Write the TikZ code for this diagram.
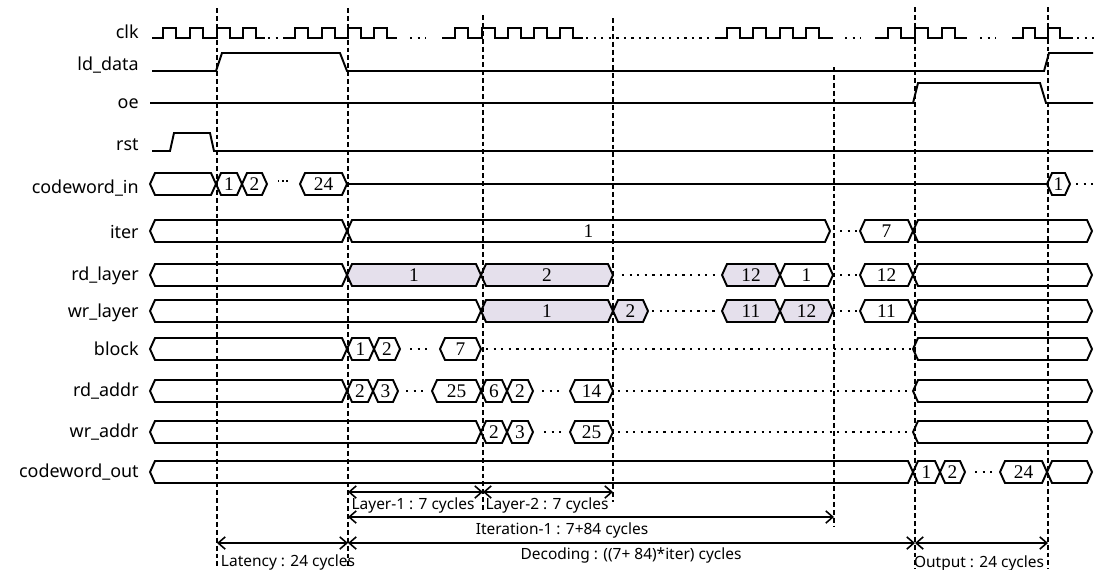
\documentclass[tikz,border=0pt]{standalone}
\usepackage{fontspec}
\setmainfont{Noto Sans}
\newfontfamily\numfont{Liberation Serif}
\usetikzlibrary{arrows.meta}
\definecolor{lav}{RGB}{229,224,236}

\newcommand{\busval}[5][white]{%
  \draw[bus, fill=#1] (#2,#4) -- (#2+5,#4-11) -- (#3-5,#4-11) -- (#3,#4)
    -- (#3-5,#4+11) -- (#2+5,#4+11) -- cycle;
  \node[val] at ({(#2+#3)/2},#4) {#5};
}

\begin{document}
\begin{tikzpicture}[x=0.02cm, y=-0.02cm,
  sig/.style={line width=1.1pt, line join=miter},
  bus/.style={line width=1.1pt, line join=miter},
  val/.style={font=\numfont\fontsize{11}{12}\selectfont, inner sep=0pt},
  lab/.style={anchor=base east, font=\fontsize{10.2}{12}\selectfont, inner sep=0pt},
  dots/.style={line width=1.3pt, dash pattern=on 1.3pt off 3pt},
  vline/.style={line width=0.9pt, dash pattern=on 2.8pt off 1.7pt},
  dim/.style={{Straight Barb[length=4pt,width=7pt]}-{Straight Barb[length=4pt,width=7pt]}, line width=0.9pt},
  note/.style={font=\fontsize{8.8}{10}\selectfont, inner sep=0pt}
]
  \useasboundingbox (0,0) rectangle (1097,569);

  \node[lab] (clk) at (139,38) {clk};
  \node[lab] (lddata) at (139,70) {ld\_data};
  \node[lab] (oe) at (139,108) {oe};
  \node[lab] (rst) at (139,150) {rst};
  \node[lab] (cwin) at (139,193) {codeword\_in};
  \node[lab] (iter) at (139,238) {iter};
  \node[lab] (rdlayer) at (139,280) {rd\_layer};
  \node[lab] (wrlayer) at (139,317) {wr\_layer};
  \node[lab] (block) at (139,355) {block};
  \node[lab] (rdaddr) at (139,396) {rd\_addr};
  \node[lab] (wraddr) at (139,437) {wr\_addr};
  \node[lab] (cwout) at (139,477) {codeword\_out};

  \draw[sig] (152,38) \foreach \r in {163,190,217,243} { -- (\r,38) -- (\r,28) -- (\r+13,28) -- (\r+13,38) } -- (265,38);
  \draw[dots] (268,38) -- (284,38);
  \draw[sig] (283,38) \foreach \r in {295,322,348,374} { -- (\r,38) -- (\r,28) -- (\r+13,28) -- (\r+13,38) } -- (397,38);
  \draw[dots] (410,38) -- (426,38);
  \draw[sig] (442,38) \foreach \r in {455,482,508,534,560} { -- (\r,38) -- (\r,28) -- (\r+13,28) -- (\r+13,38) } -- (583,38);
  \draw[dots] (586,38) -- (714,38);
  \draw[sig] (715,38) \foreach \r in {727,753,780,806} { -- (\r,38) -- (\r,28) -- (\r+13,28) -- (\r+13,38) } -- (833,38);
  \draw[dots] (845,38) -- (861,38);
  \draw[sig] (875,38) \foreach \r in {888,915,942} { -- (\r,38) -- (\r,28) -- (\r+13,28) -- (\r+13,38) } -- (967,38);
  \draw[dots] (980,38) -- (996,38);
  \draw[sig] (1012,38) \foreach \r in {1023,1048} { -- (\r,38) -- (\r,28) -- (\r+12,28) -- (\r+12,38) } -- (1073,38);
  \draw[dots] (1077,38) -- (1096,38);

  \draw[sig] (152,71) -- (216,71) -- (222,53) -- (340,53) -- (347,71) -- (1044,71) -- (1049,53) -- (1093,53);
  \draw[sig] (150,103) -- (913,103) -- (918,83) -- (1040,83) -- (1046,103) -- (1093,103);
  \draw[sig] (152,151) -- (170,151) -- (174,133) -- (210,133) -- (214,151) -- (1093,151);

  \busval{150}{216}{184}{}
  \busval{216}{242}{184}{1}
  \busval{242}{267}{184}{2}
  \draw[line width=0.8pt, dash pattern=on 0.8pt off 1.6pt] (278,181) -- (288,181);
  \busval{300}{347}{184}{24}
  \draw[sig] (347,184) -- (1047,184);
  \busval{1047}{1070}{184}{1}
  \draw[dots] (1076,184) -- (1093,184);

  \busval{150}{347}{231}{}
  \busval{347}{830}{231}{1}
  \draw[dots] (840,231) -- (857,231);
  \busval{860}{913}{231}{7}
  \busval{913}{1092}{231}{}

  \busval{150}{347}{275}{}
  \busval[lav]{347}{481}{275}{1}
  \busval[lav]{481}{613}{275}{2}
  \draw[dots] (622,275) -- (716,275);
  \busval[lav]{722}{780}{275}{12}
  \busval{780}{833}{275}{1}
  \draw[dots] (840,275) -- (857,275);
  \busval{860}{913}{275}{12}
  \busval{913}{1092}{275}{}

  \busval{150}{481}{311}{}
  \busval[lav]{481}{613}{311}{1}
  \busval[lav]{613}{648}{311}{2}
  \draw[dots] (652,311) -- (716,311);
  \busval[lav]{722}{780}{311}{11}
  \busval[lav]{780}{833}{311}{12}
  \draw[dots] (840,311) -- (857,311);
  \busval{860}{913}{311}{11}
  \busval{913}{1092}{311}{}

  \busval{150}{347}{349}{}
  \busval{347}{374}{349}{1}
  \busval{374}{400}{349}{2}
  \draw[dots] (410,349) -- (427,349);
  \busval{440}{481}{349}{7}
  \draw[dots] (486,349) -- (912,349);
  \busval{913}{1092}{349}{}

  \busval{150}{347}{391}{}
  \busval{347}{373}{391}{2}
  \busval{373}{398}{391}{3}
  \draw[dots] (406,391) -- (423,391);
  \busval{432}{481}{391}{25}
  \busval{481}{507}{391}{6}
  \busval{507}{533}{391}{2}
  \draw[dots] (542,391) -- (559,391);
  \busval{570}{613}{391}{14}
  \draw[dots] (618,391) -- (912,391);
  \busval{913}{1092}{391}{}

  \busval{150}{481}{432}{}
  \busval{481}{507}{432}{2}
  \busval{507}{533}{432}{3}
  \draw[dots] (544,432) -- (561,432);
  \busval{570}{613}{432}{25}
  \draw[dots] (618,432) -- (912,432);
  \busval{913}{1092}{432}{}

  \busval{150}{913}{472}{}
  \busval{913}{940}{472}{1}
  \busval{940}{965}{472}{2}
  \draw[dots] (975,472) -- (992,472);
  \busval{1000}{1047}{472}{24}
  \busval{1047}{1092}{472}{}

  \coordinate (t1) at (217,8);
  \coordinate (t2) at (348,8);
  \coordinate (t3) at (483,15);
  \coordinate (t4) at (613,18);
  \coordinate (t5) at (834,67);
  \coordinate (t6) at (915,7);
  \coordinate (t7) at (1048,7);
  \draw[vline] (t1) -- (217,569);
  \draw[vline] (t2) -- (348,569);
  \draw[vline] (t3) -- (483,512);
  \draw[vline] (t4) -- (613,502);
  \draw[vline] (t5) -- (834,527);
  \draw[vline] (t6) -- (915,569);
  \draw[vline] (t7) -- (1048,569);

  \draw[dim] (t2 |- 0,492) -- (t3 |- 0,492);
  \draw[dim] (t3 |- 0,492) -- (t4 |- 0,492);
  \draw[dim] (t2 |- 0,517) -- (t5 |- 0,517);
  \draw[dim] (t1 |- 0,543) -- (t2 |- 0,543);
  \draw[dim] (t2 |- 0,543) -- (t6 |- 0,543);
  \draw[dim] (t6 |- 0,543) -- (t7 |- 0,543);
  \node[note] (lay1) at (413,505) {Layer-1 : 7 cycles};
  \node[note] (lay2) at (547,505) {Layer-2 : 7 cycles};
  \node[note] (it1) at (562,530) {Iteration-1 : 7+84 cycles};
  \node[note] (dec) at (631,555) {Decoding : ((7+ 84)*iter) cycles};
  \node[note] (lat) at (288,562) {Latency : 24 cycles};
  \node[note] (out) at (979,563) {Output : 24 cycles};
\end{tikzpicture}
\end{document}
